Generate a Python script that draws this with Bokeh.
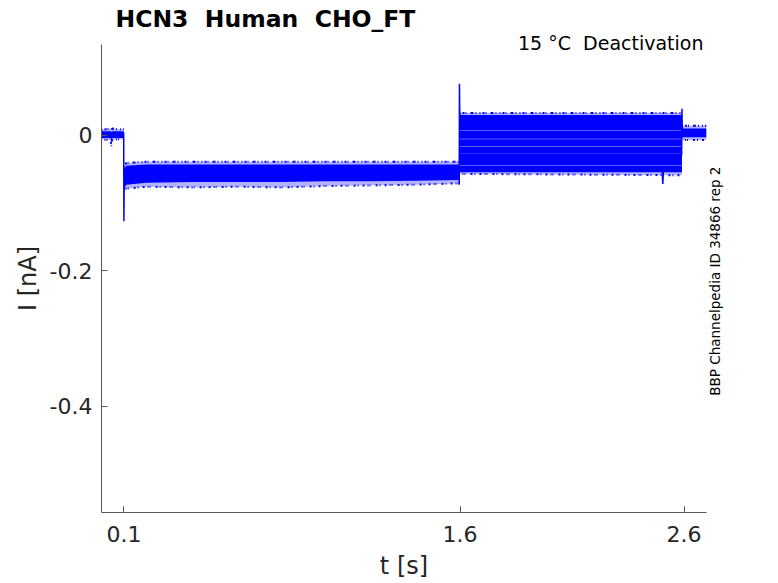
import numpy as np
from bokeh.plotting import figure
from bokeh.models import FixedTicker, Range1d, Title, LinearAxis
from bokeh.embed import file_html
from bokeh.resources import INLINE

# ---- data (current in nA, time in s) ----
# holding segment before the step
t_base = [0.0, 0.02, 0.040, 0.044, 0.048, 0.07, 0.0995]
base_core_hi = [0.006, 0.006, 0.006, 0.005, 0.006, 0.006, 0.006]
base_core_lo = [-0.004, -0.004, -0.004, -0.012, -0.004, -0.004, -0.004]
base_fringe_hi = [0.008, 0.009, 0.010, 0.008, 0.010, 0.009, 0.009]
base_fringe_lo = [-0.006, -0.007, -0.007, -0.016, -0.007, -0.006, -0.006]

# activation step (all sweeps overlap)
t_step = [0.1005, 0.11, 0.2, 0.4, 0.6, 0.8, 1.0, 1.2, 1.4, 1.5975]
step_core_hi = [-0.050, -0.045, -0.043, -0.043, -0.043, -0.043, -0.043, -0.043, -0.043, -0.043]
step_core_lo = [-0.080, -0.073, -0.070, -0.069, -0.069, -0.069, -0.068, -0.068, -0.067, -0.066]
step_fringe_hi = [-0.047, -0.041, -0.039, -0.039, -0.039, -0.039, -0.039, -0.039, -0.039, -0.039]
step_fringe_lo = [-0.083, -0.079, -0.076, -0.077, -0.076, -0.077, -0.075, -0.074, -0.073, -0.071]

# deactivation tails, one band per sweep
t_tail = [1.5975, 2.5905]
tail_hi = [0.030, 0.0225, 0.0072, -0.0058, -0.0168, -0.0278, -0.0360, -0.0448]
tail_lo = [0.012, 0.0078, -0.0052, -0.0162, -0.0272, -0.0380, -0.0440, -0.0545]
tail_fringe_hi = [0.033, 0.033]
tail_fringe_lo = [-0.057, -0.059]

# after the tail
t_post = [2.5905, 2.7]
post_core_hi = [0.010, 0.010]
post_core_lo = [-0.003, -0.003]
post_fringe_hi = [0.014, 0.014]
post_fringe_lo = [-0.007, -0.007]

# capacitive transients / artefacts
spike1_t = [0.0990, 0.1000, 0.1010, 0.1025]
spike1_i = [0.004, -0.127, -0.085, -0.060]
spike2_t = [1.5965, 1.5975, 1.5985, 1.5995]
spike2_i = [-0.073, 0.076, 0.040, 0.020]
spike3_t = [2.5890, 2.5905, 2.5920]
spike3_i = [-0.030, 0.039, 0.005]
dip_t = [2.5020, 2.5050, 2.5080]
dip_i = [-0.050, -0.072, -0.050]

x_ticks = [0.1, 1.6, 2.6]
y_ticks = [-0.4, -0.2, 0.0]
y_tick_labels = {-0.4: "-0.4", -0.2: "-0.2", 0.0: "0"}

ID_TEXT = "BBP Channelpedia ID 34866 rep 2"
ID_START = -0.3845   # where the rotated id text begins (its lower end), in nA

BLUE = "#0000ff"
FONT = "DejaVu Sans"
INK = "#262626"
NB = "\u00a0"

p = figure(width=778, height=583, output_backend="svg", toolbar_location=None,
           title=None,
           x_range=Range1d(0, 2.7), y_range=Range1d(-0.557, 0.134),
           min_border_left=101, min_border_right=72, min_border_top=43,
           min_border_bottom=71)
p.outline_line_color = None
p.grid.visible = False
p.background_fill_color = "white"
p.border_fill_color = "white"

# fringes (spiky noise), then solid cores
for tt, lo, hi in [(t_base, base_fringe_lo, base_fringe_hi),
                   (t_step, step_fringe_lo, step_fringe_hi),
                   (t_tail, tail_fringe_lo, tail_fringe_hi),
                   (t_post, post_fringe_lo, post_fringe_hi)]:
    p.varea(x=tt, y1=lo, y2=hi, fill_color=BLUE, fill_alpha=0.3)
    p.line(tt, hi, line_color=BLUE, line_width=2, line_dash="1 2 2 1 1 4 3 2 1 3")
    p.line(tt, lo, line_color=BLUE, line_width=2, line_dash="2 3 1 1 1 5 2 2 1 4",
           line_dash_offset=2)

for tt, lo, hi in [(t_base, base_core_lo, base_core_hi),
                   (t_step, step_core_lo, step_core_hi),
                   (t_post, post_core_lo, post_core_hi)]:
    p.varea(x=tt, y1=lo, y2=hi, fill_color=BLUE, fill_alpha=1.0)

for hi, lo in zip(tail_hi, tail_lo):
    p.varea(x=t_tail, y1=[lo, lo], y2=[hi, hi], fill_color=BLUE, fill_alpha=1.0)

for tt, ii in [(spike1_t, spike1_i), (spike2_t, spike2_i),
               (spike3_t, spike3_i), (dip_t, dip_i)]:
    p.line(tt, ii, line_color=BLUE, line_width=1.5)

# axes
for ax in (p.xaxis, p.yaxis):
    ax.axis_line_color = "#555555"
    ax.axis_line_width = 1
    ax.major_tick_line_color = "#555555"
    ax.major_tick_in = 6
    ax.major_tick_out = 0
    ax.minor_tick_line_color = None
    ax.major_label_text_font = FONT
    ax.major_label_text_font_size = "22px"
    ax.major_label_text_color = INK
    ax.axis_label_text_font = FONT
    ax.axis_label_text_font_size = "24px"
    ax.axis_label_text_font_style = "normal"
    ax.axis_label_text_color = INK

p.xaxis.ticker = FixedTicker(ticks=x_ticks)
p.xaxis.major_label_overrides = {v: str(v) for v in x_ticks}
p.xaxis.axis_label = "t [s]"
p.xaxis.major_label_standoff = 13
p.xaxis.axis_label_standoff = 7

p.yaxis.ticker = FixedTicker(ticks=y_ticks)
p.yaxis.major_label_overrides = y_tick_labels
p.yaxis.axis_label = "I [nA]"
p.yaxis.major_label_standoff = 9
p.yaxis.axis_label_standoff = 5

# vertical id text on the right, as the single tick label of a bare right axis
rax = LinearAxis(ticker=FixedTicker(ticks=[ID_START]))
rax.major_label_overrides = {ID_START: ID_TEXT}
rax.major_label_orientation = np.pi / 2
rax.axis_line_color = None
rax.major_tick_line_color = None
rax.minor_tick_line_color = None
rax.major_tick_in = 0
rax.major_tick_out = 0
rax.major_label_text_font = FONT
rax.major_label_text_font_size = "13.5px"
rax.major_label_text_color = "black"
rax.major_label_standoff = 9
p.add_layout(rax, "right")

# subtitle (closest to the frame), then main title above it
sub = Title(text="15 °C " + NB + "Deactivation", align="right", offset=3,
            text_font=FONT, text_font_size="19px", text_font_style="normal",
            text_color="black", standoff=-18, vertical_align="bottom")
p.add_layout(sub, "above")
main = Title(text="HCN3 " + NB + "Human " + NB + "CHO_FT", align="left", offset=14,
             text_font=FONT, text_font_size="23.5px", text_font_style="bold",
             text_color="black", standoff=8, vertical_align="top")
p.add_layout(main, "above")

open("out.html", "w").write(file_html(p, INLINE))
